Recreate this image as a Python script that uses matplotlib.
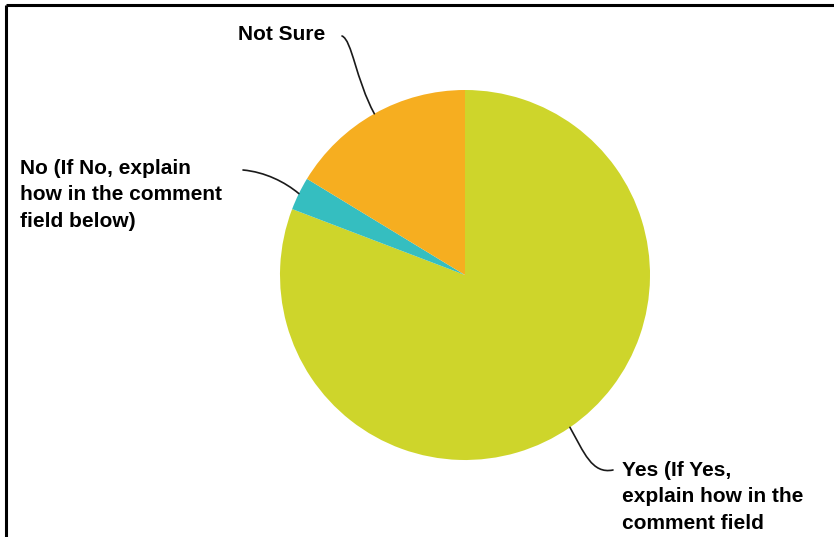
import numpy as np
import matplotlib
matplotlib.use("Agg")
import matplotlib.pyplot as plt
from matplotlib.path import Path
from matplotlib.patches import PathPatch

# Survey responses (percent of answers)
categories = ["Yes (If Yes,\nexplain how in the\ncomment field",
              "No (If No, explain\nhow in the comment\nfield below)",
              "Not Sure"]
shares = [80.8, 2.9, 16.3]
colors = ["#CED52B", "#35BEC0", "#F6AE20"]

W, H = 834, 537
fig = plt.figure(figsize=(W / 100, H / 100), dpi=100)
ax = fig.add_axes([0, 0, 1, 1])

# Pixel-like coordinate system, y measured upward
cx, cy, r = 465, H - 275, 185
wedges, _ = ax.pie(shares, colors=colors, startangle=90, counterclock=False,
                   center=(cx, cy), radius=r,
                   wedgeprops=dict(linewidth=0))
ax.set_xlim(0, W)
ax.set_ylim(0, H)
ax.set_aspect("equal")
ax.axis("off")


def edge_point(w):
    ang = np.deg2rad((w.theta1 + w.theta2) / 2)
    return cx + r * np.cos(ang), cy + r * np.sin(ang)


def leader(p0, c1, c2, p3):
    verts = [p0, c1, c2, p3]
    path = Path(verts, [Path.MOVETO, Path.CURVE4, Path.CURVE4, Path.CURVE4])
    ax.add_patch(PathPatch(path, facecolor="none", edgecolor="#1a1a1a",
                           lw=1.2, capstyle="round"))


font = dict(family="Liberation Sans", weight="bold", size=15, color="black")

# Yes label and leader
yx, yy = edge_point(wedges[0])
leader((yx, yy), (yx + 14, yy - 25), (yx + 22, yy - 47), (613, H - 470))
ax.text(622, H - 497, categories[0], ha="left", va="center",
        linespacing=1.5, **font)

# No label and leader
nx, ny = edge_point(wedges[1])
leader((243, H - 170), (265, H - 172), (285, H - 182), (nx, ny))
ax.text(20, H - 195, categories[1], ha="left", va="center",
        linespacing=1.5, **font)

# Not Sure label and leader
sx, sy = edge_point(wedges[2])
leader((342, H - 36), (352, H - 40), (356, H - 80), (sx, sy))
ax.text(238, H - 35, categories[2], ha="left", va="center", **font)

# Frame edges
ax.plot([6, 6], [0, H - 5], color="black", lw=2.2, solid_capstyle="butt")
ax.plot([6, W], [H - 5, H - 5], color="black", lw=2.2, solid_capstyle="butt")

fig.savefig("out.png", dpi=100)
